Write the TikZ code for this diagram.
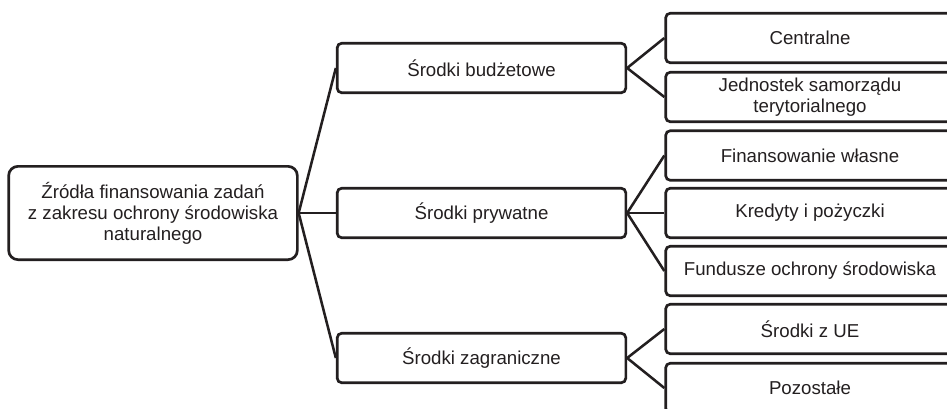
\documentclass[tikz,border=0pt]{standalone}
\usepackage{fontspec}
\setmainfont{Liberation Sans}
\definecolor{ink}{HTML}{231F20}
\begin{document}
\begin{tikzpicture}[x=0.75pt,y=-0.75pt,
  every node/.style={font=\fontsize{14}{15.8}\selectfont, text=ink, align=center},
  box/.style={draw=ink, line width=2pt, rounded corners=3.5pt, inner sep=0pt,
    minimum width=216.5pt, minimum height=37.2pt},
  rootbox/.style={box, rounded corners=7pt, minimum height=70pt},
  link/.style={draw=ink, line width=1.9pt}]
\useasboundingbox (0,0) rectangle (947,408);
\clip (0,0) rectangle (947,408);
\fill[white] (0,0) rectangle (947,408);

% root
\node[rootbox] (root) at (153,213) {Źródła finansowania zadań\\z zakresu ochrony środowiska\\naturalnego};

% second level
\node[box] (bud) at (481.5,68) {Środki budżetowe};
\node[box] (pry) at (481.5,213) {Środki prywatne};
\node[box] (zag) at (481.5,358) {Środki zagraniczne};

% third level
\node[box] (cen) at (810,38)    {Centralne};
\node[box] (jst) at (810,97)    {Jednostek samorządu\\terytorialnego};
\node[box] (fin) at (810,155.5) {Finansowanie własne};
\node[box] (kre) at (810,213)   {Kredyty i pożyczki};
\node[box] (fun) at (810,271)   {Fundusze ochrony środowiska};
\node[box] (ue)  at (810,329)   {Środki z UE};
\node[box] (poz) at (810,388)   {Pozostałe};

% connectors
\foreach \t in {bud,pry,zag} \draw[link] (root.east) -- (\t.west);
\foreach \t in {cen,jst} \draw[link] (bud.east) -- (\t.west);
\foreach \t in {fin,kre,fun} \draw[link] (pry.east) -- (\t.west);
\foreach \t in {ue,poz} \draw[link] (zag.east) -- (\t.west);
\end{tikzpicture}
\end{document}
